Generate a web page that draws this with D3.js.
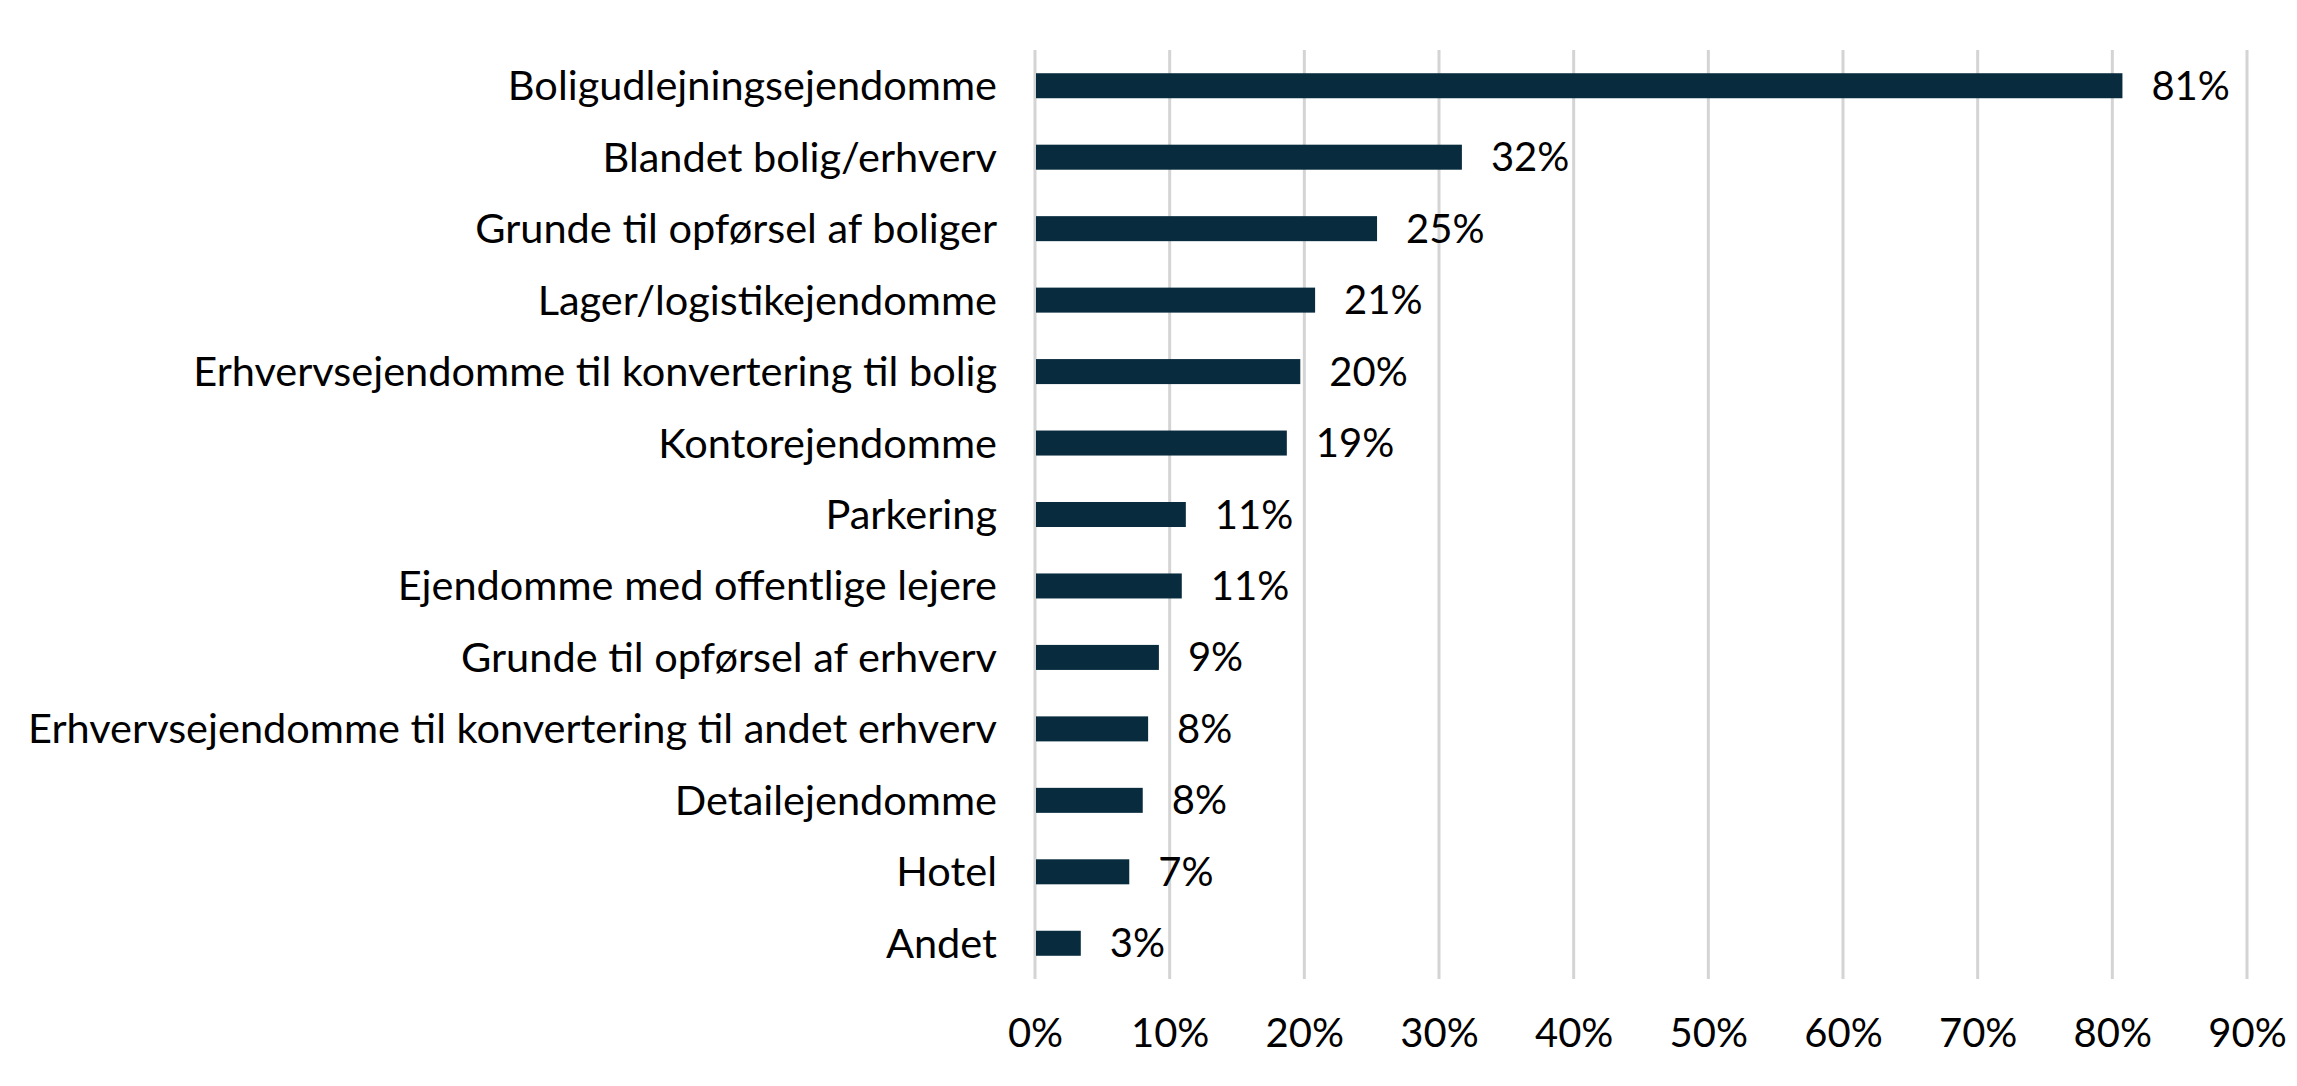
<!DOCTYPE html>
<html>
<head>
<meta charset="utf-8">
<script src="https://cdn.jsdelivr.net/npm/d3@7"></script>
<style>
	body { margin: 0; background: #fff; }
	svg { display: block; }
	svg text { font-family: Lato, "Open Sans", sans-serif; }
</style>
</head>
<body>
<svg id="chart" width="2297" height="1086"></svg>
<script>
var categories = [
	"Boligudlejningsejendomme",
	"Blandet bolig/erhverv",
	"Grunde til opførsel af boliger",
	"Lager/logistikejendomme",
	"Erhvervsejendomme til konvertering til bolig",
	"Kontorejendomme",
	"Parkering",
	"Ejendomme med offentlige lejere",
	"Grunde til opførsel af erhverv",
	"Erhvervsejendomme til konvertering til andet erhverv",
	"Detailejendomme",
	"Hotel",
	"Andet"
];
var shares = [80.75, 31.7, 25.4, 20.8, 19.7, 18.7, 11.2, 10.9, 9.2, 8.4, 8.0, 7.0, 3.4];
var tickValues = [0, 10, 20, 30, 40, 50, 60, 70, 80, 90];

var svg = d3.select("#chart");
var plotLeft = 1035, plotRight = 2247, plotTop = 50, plotBottom = 979;

var x = d3.scaleLinear()
    .domain([0, 90])
    .range([plotLeft, plotRight]);

var y = d3.scaleBand()
    .domain(categories)
    .range([plotTop, plotBottom])
    .paddingInner(0.65)
    .paddingOuter(0.325);

// gridlines
svg.append("g").selectAll("line")
    .data(tickValues)
  .enter()
  .append("line")
    .attr("x1", function (d) { return x(d) })
    .attr("x2", function (d) { return x(d) })
    .attr("y1", plotTop)
    .attr("y2", plotBottom)
    .style("stroke", "#d4d4d4")
    .style("stroke-width", 3);

// x axis labels
var xAxis = d3.axisBottom(x)
    .tickValues(tickValues)
    .tickSize(0)
    .tickPadding(0)
    .tickFormat(function (d) { return d + "%" });
var xg = svg.append("g")
    .attr("transform", "translate(0," + plotBottom + ")")
    .call(xAxis)
    .attr("font-family", null)
    .attr("font-size", null);
xg.select(".domain").remove();
xg.selectAll("text")
    .attr("y", 54)
    .attr("dy", "0.35em")
    .style("font-size", "40px")
    .style("fill", "#000");

// category labels
var yAxis = d3.axisLeft(y).tickSize(0).tickPadding(0);
var yg = svg.append("g")
    .attr("transform", "translate(" + (plotLeft - 38) + ",0)")
    .call(yAxis)
    .attr("font-family", null)
    .attr("font-size", null);
yg.select(".domain").remove();
yg.selectAll("text")
    .attr("dy", "0.35em")
    .style("font-size", "41.5px")
    .style("fill", "#000");

// bars
svg.append("g").selectAll("rect")
    .data(shares)
  .enter()
  .append("rect")
    .attr("x", x(0) + 1)
    .attr("y", function (d, i) { return y(categories[i]) })
    .attr("width", function (d) { return x(d) - x(0) - 1 })
    .attr("height", y.bandwidth())
    .style("fill", "#082c3e");

// value labels
svg.append("g").selectAll("text")
    .data(shares)
  .enter()
  .append("text")
    .attr("x", function (d) { return x(d) + 29 })
    .attr("y", function (d, i) { return y(categories[i]) + y.bandwidth() / 2 })
    .attr("dy", "0.35em")
    .style("font-size", "40px")
    .style("fill", "#000")
    .text(function (d) { return Math.round(d) + "%" });
</script>
</body>
</html>
